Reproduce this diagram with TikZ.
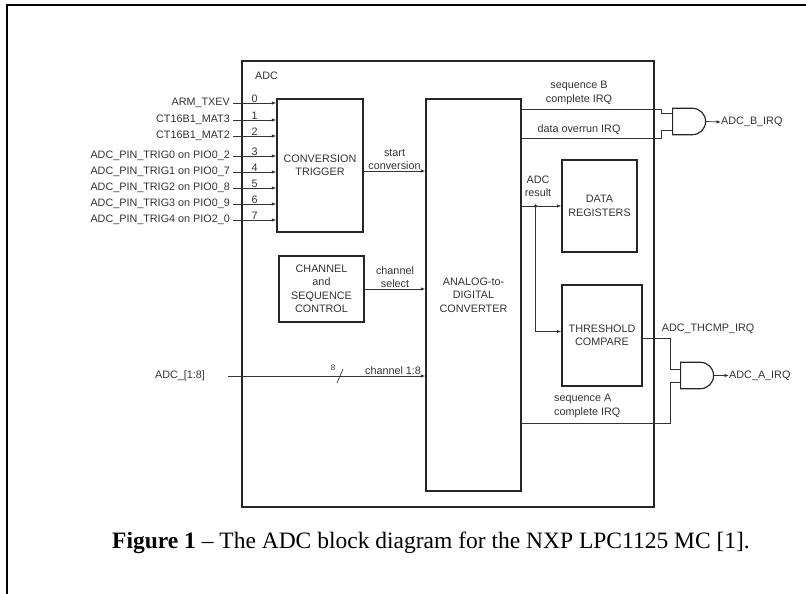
\documentclass[tikz,border=0pt]{standalone}
\usepackage{fontspec}
\setmainfont{Liberation Serif}
\setsansfont{Liberation Sans}
\usepackage{tikz}
\usetikzlibrary{arrows.meta, positioning, calc, shapes.gates.logic.US}

\begin{document}
\begin{tikzpicture}[x=1pt, y=-1pt,
    blk/.style={draw=black!85, line width=1.4pt, align=center, inner sep=0pt, minimum width=#1,
        font=\sffamily\fontsize{10.8}{13.5}\selectfont, text=black!80},
    sig/.style={draw=black!80, line width=0.7pt},
    arr/.style={sig, -{Latex[length=4.5pt, width=3.4pt]}},
    lbl/.style={font=\sffamily\fontsize{10.8}{13.5}\selectfont, text=black!80, inner sep=1pt, align=center},
    andg/.style={and gate US, draw=black!85, line width=1.2pt, logic gate inputs=nn,
        minimum height=26pt, minimum width=33pt, inner sep=0pt},
]
    \useasboundingbox (0,0) rectangle (806,594);

    % page frame
    \draw[line width=2.6pt] (806,5) -- (7,5) -- (7,594);

    % ADC block and its parts
    \node[blk=412pt, line width=1.1pt, minimum height=446pt] (adc) at (448,284) {};
    \node[lbl, anchor=west] (adcname) at (254,76) {ADC};
    \node[blk=86pt, minimum height=133pt] (trig) at (320,165.5) {CONVERSION\\TRIGGER};
    \node[blk=85pt, minimum height=66pt] (chan) at (321.5,289) {CHANNEL\\and\\SEQUENCE\\CONTROL};
    \node[blk=95pt, minimum height=392pt] (conv) at (473.5,295) {ANALOG-to-\\DIGITAL\\CONVERTER};
    \node[blk=75pt, minimum height=92pt] (data) at (599.5,206) {DATA\\REGISTERS};
    \node[blk=80pt, minimum height=101pt] (thr) at (602,335.5) {THRESHOLD\\COMPARE};

    % trigger inputs 0..7
    \foreach \n/\txt/\y in {0/ARM\_TXEV/103, 1/CT16B1\_MAT3/120, 2/CT16B1\_MAT2/136,
        3/ADC\_PIN\_TRIG0 on PIO0\_2/156, 4/ADC\_PIN\_TRIG1 on PIO0\_7/172,
        5/ADC\_PIN\_TRIG2 on PIO0\_8/188, 6/ADC\_PIN\_TRIG3 on PIO0\_9/204,
        7/ADC\_PIN\_TRIG4 on PIO2\_0/220}
    {
        \node[lbl, anchor=east] (in\n) at (231,\y) {\txt};
        \draw[arr] ([xshift=2pt]in\n.east) -- (in\n -| trig.west)
            node[midway, above, lbl, inner sep=0.5pt] {\n};
    }

    % control paths into the converter
    \draw[arr] ([yshift=-5.5pt]trig.east) -- ([yshift=-5.5pt]trig.east -| conv.west)
        node[midway, above, lbl] {start\\conversion};
    \draw[arr] (chan.east) -- (chan.east -| conv.west)
        node[midway, above, lbl] {channel\\select};

    % analog inputs
    \node[lbl] (ain) at (180,376) {ADC\_[1:8]};
    \coordinate (bus) at (340,376);
    \draw[arr] ([xshift=22pt]ain.east) -- (ain -| conv.west)
        node[pos=1, above left, lbl, xshift=-3pt] {channel 1:8};
    \draw[sig] ($(bus)+(-3,7)$) -- ($(bus)+(3,-7)$);
    \node[lbl, font=\sffamily\fontsize{8}{9}\selectfont] (buswidth) at (333,368) {8};

    % conversion result
    \coordinate (res) at ($(conv.east |- data)!0.35!(data.west)$);
    \draw[arr] (conv.east |- data) -- (data.west);
    \fill[black!80] (res) circle (1.8);
    \draw[arr] (res) |- ([yshift=4pt]thr.west);
    \node[lbl] (reslbl) at (538,186.5) {ADC\\result};

    % interrupt gates
    \node[andg, anchor=west] (andB) at (672,121.5) {};
    \node[andg, anchor=west] (andA) at (680,375.5) {};
    \node[lbl, anchor=west, inner sep=0pt] (outB) at (721,122) {ADC\_B\_IRQ};
    \node[lbl, anchor=west, inner sep=0pt] (outA) at (729,375.5) {ADC\_A\_IRQ};
    \draw[arr] (andB.east) -- (outB.west);
    \draw[arr] (andA.east) -- (outA.west);

    \draw[sig] (conv.east |- 0,109) -- (661,109) |- ($(andB.west)+(0,-8.5)$);
    \draw[sig] (conv.east |- 0,138) -- (661,138) |- ($(andB.west)+(0,9)$);
    \node[lbl] (seqB) at (579,93) {sequence B\\complete IRQ};
    \node[lbl] (ovr) at (579,130) {data overrun IRQ};

    \draw[sig] ([yshift=-2.5pt]thr.east) -- ++(28,0) |- ($(andA.west)+(0,-6.5)$);
    \draw[sig] (conv.east |- 0,423) -- (670,423) |- ($(andA.west)+(0,6.5)$);
    \node[lbl] (thcmp) at (708,329) {ADC\_THCMP\_IRQ};
    \node[lbl, anchor=west, align=left] (seqA) at (553,406) {sequence A\\complete IRQ};

    % caption
    \node[font=\fontsize{23.5}{28}\selectfont] (caption) at (431,543)
        {\textbf{Figure 1} -- The ADC block diagram for the NXP LPC1125 MC [1].};
\end{tikzpicture}
\end{document}
